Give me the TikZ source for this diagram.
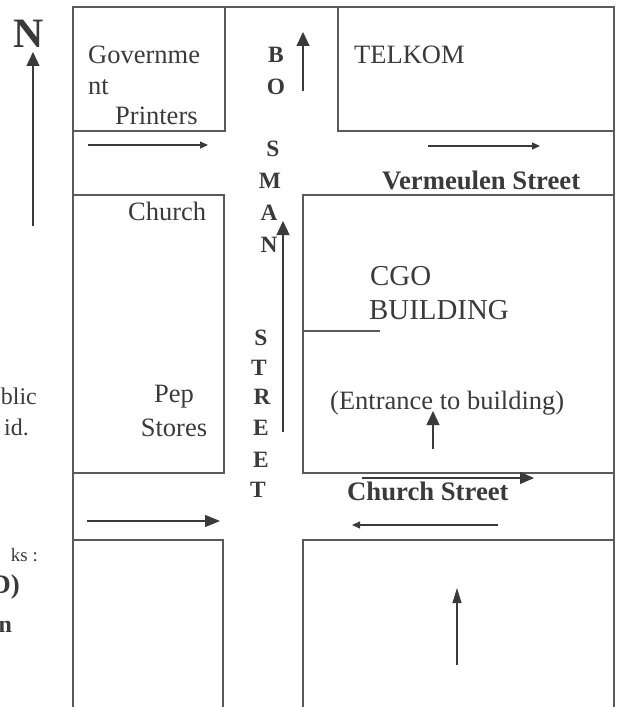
\documentclass[tikz,border=0pt]{standalone}
\usepackage{fontspec}
\setmainfont{Liberation Serif}
\usetikzlibrary{arrows.meta}
\definecolor{ink}{HTML}{3A3A3A}
\definecolor{wall}{HTML}{5A5A5A}
\tikzset{
  x=1bp,y=-1bp,
  wall/.style={draw=wall,line width=1.4bp},
  roadarrow/.style={draw=ink,line width=1.1bp,-{Triangle[length=8bp,width=7bp]}},
  bigarrow/.style={draw=ink,line width=1.2bp,-{Triangle[length=14bp,width=13bp]}},
  txt/.style={inner sep=0pt,text=ink,font=\fontsize{26.6}{26.6}\selectfont},
  large/.style={inner sep=0pt,text=ink,font=\fontsize{29}{29}\selectfont},
  margin/.style={inner sep=0pt,text=ink,font=\fontsize{24}{24}\selectfont},
  letter/.style={inner sep=0pt,text=ink,font=\fontsize{23.5}{23.5}\selectfont\bfseries},
  street/.style={inner sep=0pt,text=ink,font=\fontsize{26.8}{26.8}\selectfont\bfseries}
}
\begin{document}
\begin{tikzpicture}
\useasboundingbox (0,0) rectangle (619,707);
% blocks
\draw[wall] (73,707) -- (73,7) -- (614,7) -- (614,707);
\draw[wall] (73,131) -- (225,131) -- (225,7);
\draw[wall] (338,7) -- (338,131) -- (614,131);
\draw[wall] (73,195) -- (224,195) -- (224,473) -- (73,473);
\draw[wall] (614,195) -- (303,195) -- (303,473) -- (614,473);
\draw[wall] (73,540) -- (223,540) -- (223,707);
\draw[wall] (614,540) -- (303,540) -- (303,707);
\draw[wall] (303,331) -- (380,331);
% north
\node[inner sep=0pt,text=ink,font=\fontsize{42}{42}\selectfont\bfseries] (north) at (29,34) {N};
\coordinate (na) at (33,226); \coordinate (nb) at (33,52);
\draw[bigarrow] (na) -- (nb);
% arrows
\coordinate (a1) at (303,91); \coordinate (a2) at (303,32);
\draw[bigarrow] (a1) -- (a2);
\coordinate (b1) at (88,145); \coordinate (b2) at (208,145);
\draw[roadarrow] (b1) -- (b2);
\coordinate (c1) at (428,146); \coordinate (c2) at (540,146);
\draw[roadarrow] (c1) -- (c2);
\coordinate (d1) at (283,432); \coordinate (d2) at (283,221);
\draw[bigarrow] (d1) -- (d2);
\coordinate (e1) at (433,449); \coordinate (e2) at (433,411);
\draw[bigarrow] (e1) -- (e2);
\coordinate (f1) at (362,478); \coordinate (f2) at (534,478);
\draw[draw=ink,line width=1.1bp,-{Triangle[length=14bp,width=12bp]}] (f1) -- (f2);
\coordinate (g1) at (498,525); \coordinate (g2) at (352,525);
\draw[roadarrow] (g1) -- (g2);
\coordinate (h1) at (87,521); \coordinate (h2) at (220,521);
\draw[draw=ink,line width=1.4bp,-{Triangle[length=15bp,width=12bp]}] (h1) -- (h2);
\coordinate (i1) at (457,665); \coordinate (i2) at (457,588);
\draw[draw=ink,line width=1.1bp,-{Triangle[length=15bp,width=9bp]}] (i1) -- (i2);
% building labels
\node[txt,anchor=west] (g1t) at (88,55) {Governme};
\node[txt,anchor=west] (g2t) at (88,87) {nt};
\node[txt,anchor=west] (g3t) at (115,116) {Printers};
\node[txt,anchor=west] (tel) at (354,55) {TELKOM};
\node[txt,anchor=west] (chu) at (128,211) {Church};
\node[txt,anchor=center] (pep) at (174,397) {Pep};
\node[txt,anchor=center] (sto) at (174,428) {Stores};
\node[large,anchor=west] (cgo) at (370,276) {CGO};
\node[large,anchor=west] (bld) at (369,310) {BUILDING};
\node[txt,anchor=west] (ent) at (330,403) {(Entrance to building)};
% street labels
\node[street,anchor=west] (ver) at (382,180) {Vermeulen Street};
\node[street,anchor=west] (cst) at (347,491) {Church Street};
% vertical street name
\node[letter] (l1) at (276,55) {B};
\node[letter] (l2) at (276,87) {O};
\node[letter] (l3) at (273,149) {S};
\node[letter] (l4) at (270,181) {M};
\node[letter] (l5) at (269,213) {A};
\node[letter] (l6) at (269,245) {N};
\node[letter] (l7) at (261,338) {S};
\node[letter] (l8) at (259,368) {T};
\node[letter] (l9) at (262,397) {R};
\node[letter] (l10) at (261,428) {E};
\node[letter] (l11) at (261,460) {E};
\node[letter] (l12) at (258,490) {T};
% clipped margin text
\node[margin,anchor=east] (m1) at (37,396) {blic};
\node[margin,anchor=east] (m2) at (29,427) {id.};
\node[inner sep=0pt,text=ink,font=\fontsize{19}{19}\selectfont,anchor=east] (m3) at (38,555) {ks :};
\node[inner sep=0pt,text=ink,font=\fontsize{27}{27}\selectfont\bfseries,anchor=east] (m4) at (20,587) {D)};
\node[inner sep=0pt,text=ink,font=\fontsize{24}{24}\selectfont\bfseries,anchor=east] (m5) at (12,627) {n};
\end{tikzpicture}
\end{document}
